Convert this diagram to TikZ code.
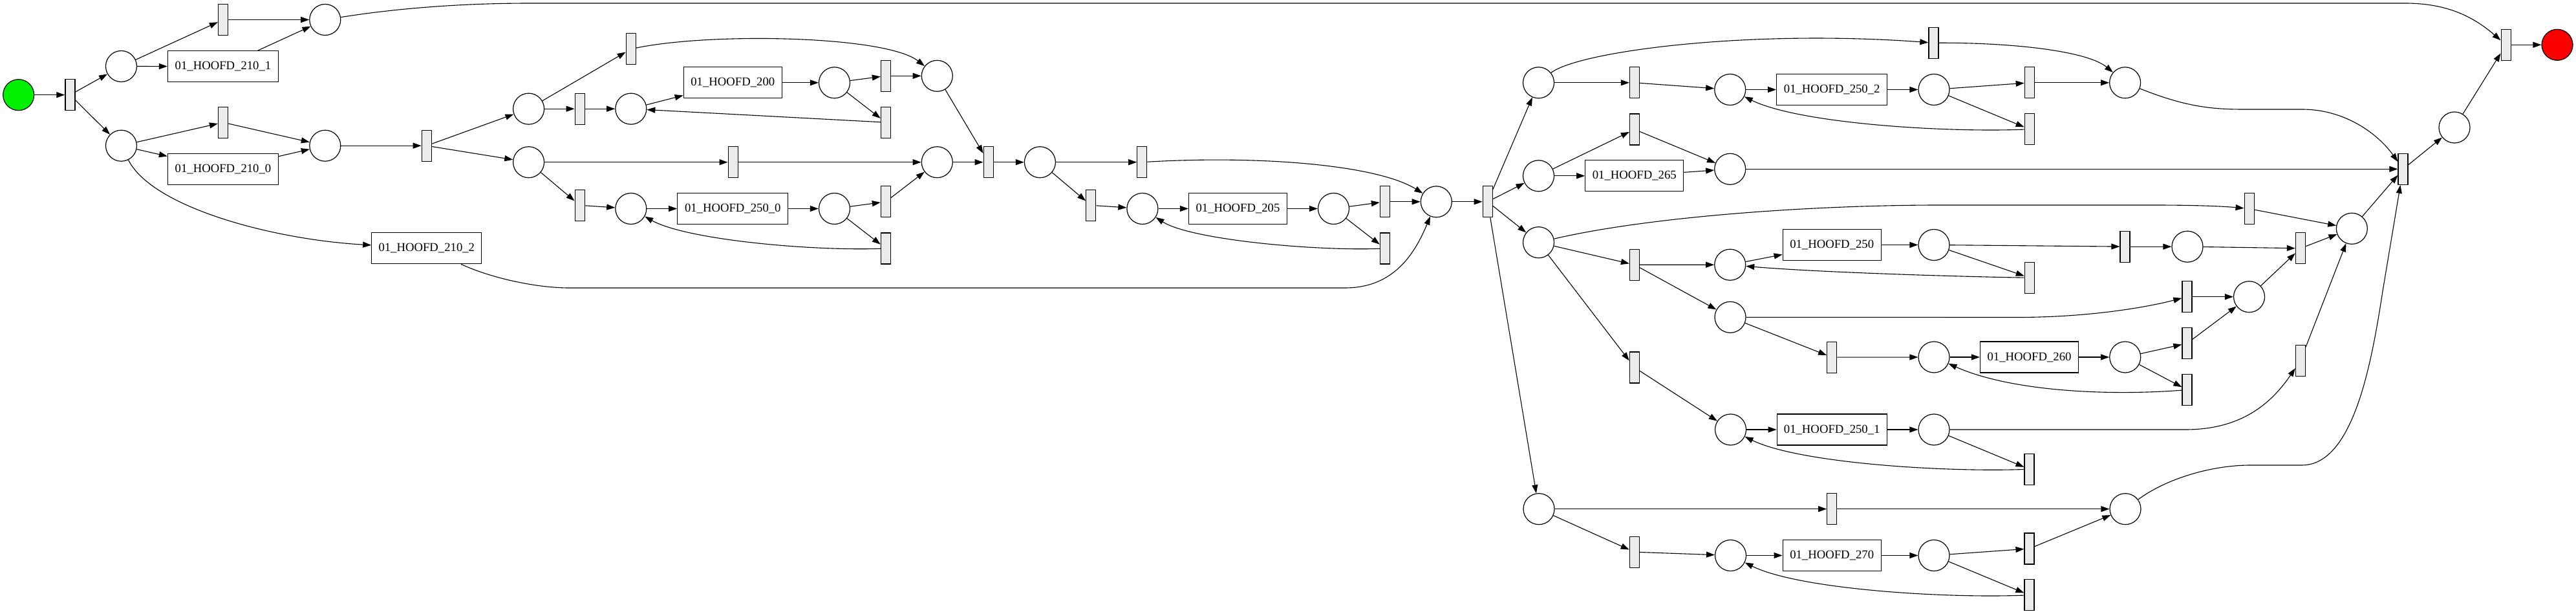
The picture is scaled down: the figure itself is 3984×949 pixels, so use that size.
\documentclass[tikz,border=0pt]{standalone}
\usepackage{fontspec}
\setmainfont{Liberation Serif}
\usetikzlibrary{arrows.meta}
\definecolor{tgray}{RGB}{235,235,235}
\definecolor{startg}{RGB}{0,240,0}
\definecolor{endr}{RGB}{250,0,0}
\begin{document}
\begin{tikzpicture}[x=1pt,y=-1pt,
  pnode/.style={circle,draw,line width=1.2pt,minimum size=48pt,inner sep=0pt},
  tnode/.style={rectangle,draw,line width=1.2pt,fill=tgray,minimum width=15pt,minimum height=48pt,inner sep=0pt},
  anode/.style={rectangle,draw,line width=1.2pt,minimum height=48pt,inner sep=0pt,font=\fontsize{18.7}{22}\selectfont},
  arr/.style={line width=1.1pt,-{Triangle[length=13pt,width=9pt]}}]
\useasboundingbox (0,0) rectangle (3984,949);
% places
\node[pnode,fill=startg] (p0) at (28.7,146.7) {};
\node[pnode] (p1) at (187.5,102.5) {};
\node[pnode] (p2) at (187.5,225.2) {};
\node[pnode] (p3) at (502.8,30.5) {};
\node[pnode] (p4) at (502.8,225.2) {};
\node[pnode] (p5) at (817.6,168.2) {};
\node[pnode] (p6) at (817.6,250.7) {};
\node[pnode] (p7) at (975.8,168.2) {};
\node[pnode] (p8) at (975.8,322.5) {};
\node[pnode] (p9) at (1290.5,127.8) {};
\node[pnode] (p10) at (1449.3,117.3) {};
\node[pnode] (p11) at (1449.3,250.7) {};
\node[pnode] (p12) at (1290.5,322.5) {};
\node[pnode] (p13) at (1608.4,250.7) {};
\node[pnode] (p14) at (1766.9,322.5) {};
\node[pnode] (p15) at (2062.5,322.5) {};
\node[pnode] (p16) at (2221.3,311.8) {};
\node[pnode] (p17) at (2379.5,127.8) {};
\node[pnode] (p18) at (2379.5,271.8) {};
\node[pnode] (p19) at (2379.5,374.7) {};
\node[pnode] (p20) at (2380,786.7) {};
\node[pnode] (p21) at (2675.7,138.5) {};
\node[pnode] (p22) at (2991,138.5) {};
\node[pnode] (p23) at (2675.7,261.3) {};
\node[pnode] (p24) at (2675.7,409.2) {};
\node[pnode] (p25) at (2991,378.5) {};
\node[pnode] (p26) at (2676,490.3) {};
\node[pnode] (p27) at (3383,381.2) {};
\node[pnode] (p28) at (3637.3,353.3) {};
\node[pnode] (p29) at (3478.5,458.7) {};
\node[pnode] (p30) at (2991,552) {};
\node[pnode] (p31) at (3286.7,552) {};
\node[pnode] (p32) at (2991,664) {};
\node[pnode] (p33) at (3287,786.7) {};
\node[pnode] (p34) at (2676.5,858.5) {};
\node[pnode] (p35) at (2991,858.5) {};
\node[pnode] (p36) at (2676.5,664) {};
\node[pnode] (p37) at (3286.6,127.8) {};
\node[pnode] (p38) at (3796,197) {};
\node[pnode,fill=endr] (pend) at (3955,69.3) {};
% transitions
\node[tnode] (T0) at (108.4,146.7) {};
\node[tnode] (Ta) at (345,30.5) {};
\node[tnode] (Tb) at (345,189.2) {};
\node[tnode] (Tc) at (659.8,225.2) {};
\node[tnode] (Td) at (975.8,75.8) {};
\node[tnode] (Te) at (896.7,168.2) {};
\node[tnode] (Tf) at (896.7,317.3) {};
\node[tnode] (Tg) at (1369.9,189.2) {};
\node[tnode] (Th) at (1369.9,117.3) {};
\node[tnode] (Ti) at (1133.6,250.7) {};
\node[tnode] (Tj) at (1369.9,311.8) {};
\node[tnode] (Tk) at (1369.9,384) {};
\node[tnode] (Tjoin) at (1528.7,250.7) {};
\node[tnode] (Tl) at (1766.3,250.7) {};
\node[tnode] (Tm) at (1687.2,317.3) {};
\node[tnode] (Tn) at (2141.9,311.8) {};
\node[tnode] (To) at (2141.9,384) {};
\node[tnode] (Tsplit) at (2300.7,311.8) {};
\node[tnode] (Tp) at (2528,127.8) {};
\node[tnode] (Tq) at (2990.4,66.3) {};
\node[tnode] (Ts) at (2528,200) {};
\node[tnode] (Tu) at (2528,409.3) {};
\node[tnode] (Tw) at (2527.8,568) {};
\node[tnode] (Tr) at (3138.7,199.8) {};
\node[tnode] (Tak) at (3138.7,127.8) {};
\node[tnode] (Tv) at (3138.8,429.3) {};
\node[tnode] (Ty) at (3286.5,381.2) {};
\node[tnode] (Tz) at (3557.9,383.8) {};
\node[tnode] (Tt) at (3478.6,322.6) {};
\node[tnode] (Taa) at (3382.4,458.7) {};
\node[tnode] (Tab) at (2833.2,552.2) {};
\node[tnode] (Tac) at (3382.4,530.7) {};
\node[tnode] (Tad) at (3382.5,602.5) {};
\node[tnode] (Tae) at (3557.9,557.3) {};
\node[tnode] (Taf) at (2833.2,786.7) {};
\node[tnode] (Tag) at (2527.8,853.2) {};
\node[tnode] (Tah) at (3138.5,848) {};
\node[tnode] (Tai) at (3138.5,919.8) {};
\node[tnode] (Taj) at (3138.5,725.2) {};
\node[tnode] (Tfj) at (3716.5,261.3) {};
\node[tnode] (Tfin) at (3875.6,69.3) {};
% labelled transitions
\node[anode,minimum width=171pt] (b2101) at (345,102.7) {01\_HOOFD\_210\_1};
\node[anode,minimum width=171pt] (b2100) at (345,261.3) {01\_HOOFD\_210\_0};
\node[anode,minimum width=170pt] (b2102) at (659.8,383.8) {01\_HOOFD\_210\_2};
\node[anode,minimum width=152pt] (b200) at (1133.3,127.8) {01\_HOOFD\_200};
\node[anode,minimum width=171pt] (b2500) at (1133.3,322.5) {01\_HOOFD\_250\_0};
\node[anode,minimum width=152pt] (b205) at (1914.5,322.5) {01\_HOOFD\_205};
\node[anode,minimum width=171pt] (b2502) at (2833.2,138.5) {01\_HOOFD\_250\_2};
\node[anode,minimum width=152pt] (b265) at (2527.8,271.8) {01\_HOOFD\_265};
\node[anode,minimum width=152pt] (b250) at (2833.2,378.5) {01\_HOOFD\_250};
\node[anode,minimum width=152pt] (b260) at (3138.5,552) {01\_HOOFD\_260};
\node[anode,minimum width=170pt] (b2501) at (2833.2,664) {01\_HOOFD\_250\_1};
\node[anode,minimum width=152pt] (b270) at (2833.2,858.5) {01\_HOOFD\_270};
% straight arcs
\foreach \a/\b in {p0/T0,T0/p1,T0/p2,p1/Ta,p1/b2101,Ta/p3,b2101/p3,
  p2/Tb,p2/b2100,Tb/p4,b2100/p4,p4/Tc,Tc/p5,Tc/p6,p5/Td,p5/Te,Te/p7,
  p6/Ti,p6/Tf,Tf/p8,p7/b200,b200/p9,p9/Th,p9/Tg,Th/p10,Tg/p7,
  p8/b2500,b2500/p12,p12/Tj,p12/Tk,Tj/p11,Ti/p11,p11/Tjoin,p10/Tjoin,
  Tjoin/p13,p13/Tl,p13/Tm,Tm/p14,p14/b205,b205/p15,p15/Tn,p15/To,Tn/p16,
  p16/Tsplit,Tsplit/p17,Tsplit/p18,Tsplit/p19,Tsplit/p20,
  p17/Tp,Tp/p21,p21/b2502,b2502/p22,p22/Tak,p22/Tr,Tak/p37,
  p18/Ts,p18/b265,Ts/p23,b265/p23,p23/Tfj,
  p19/Tu,p19/Tw,Tu/p24,Tu/p26,p24/b250,b250/p25,p25/Ty,p25/Tv,Ty/p27,p27/Tz,
  p26/Tab,Tab/p30,p30/b260,b260/p31,p31/Tac,p31/Tad,Tac/p29,Taa/p29,p29/Tz,
  Tt/p28,Tz/p28,Tae/p28,p28/Tfj,
  Tw/p36,p36/b2501,b2501/p32,p32/Taj,
  p20/Taf,Taf/p33,p20/Tag,Tag/p34,p34/b270,b270/p35,p35/Tah,p35/Tai,Tah/p33,
  Tfj/p38,p38/Tfin,Tfin/pend}
  \draw[arr] (\a) -- (\b);
% curved arcs
\draw[arr] (p3) .. controls (600,15) and (700,5) .. (820,5) -- (3720,5) .. controls (3790,5) and (3830,30) .. (Tfin);
\draw[arr] (p2) .. controls (235,320) and (420,370) .. (b2102);
\draw[arr] (b2102) .. controls (760,430) and (830,445) .. (880,445) -- (2080,445) .. controls (2150,445) and (2185,400) .. (p16);
\draw[arr] (Td) .. controls (1100,50) and (1370,55) .. (p10);
\draw[arr] (Tk) .. controls (1250,388) and (1060,370) .. (p8);
\draw[arr] (To) .. controls (2030,388) and (1840,370) .. (p14);
\draw[arr] (Tl) .. controls (1950,240) and (2130,255) .. (p16);
\draw[arr] (p17) .. controls (2440,80) and (2700,45) .. (Tq);
\draw[arr] (Tr) .. controls (3000,205) and (2780,190) .. (p21);
\draw[arr] (Tq) .. controls (3120,66) and (3230,80) .. (p37);
\draw[arr] (p37) .. controls (3380,165) and (3420,169) .. (3470,169) -- (3560,169) .. controls (3630,169) and (3680,210) .. (Tfj);
\draw[arr] (p19) .. controls (2550,335) and (2800,317) .. (3000,317) -- (3330,317) .. controls (3400,317) and (3440,319) .. (Tt);
\draw[arr] (Tv) .. controls (3000,427) and (2800,420) .. (p24);
\draw[arr] (p26) -- (3120,490.5) .. controls (3230,490.5) and (3320,475) .. (Taa);
\draw[arr] (Tad) .. controls (3260,612) and (3110,605) .. (p30);
\draw[arr] (p32) -- (3380,664) .. controls (3470,664) and (3515,620) .. (Tae);
\draw[arr] (Taj) .. controls (3000,730) and (2780,715) .. (p36);
\draw[arr] (Tai) .. controls (3000,925) and (2780,910) .. (p34);
\draw[arr] (p33) .. controls (3350,740) and (3420,719) .. (3480,719) -- (3560,719) .. controls (3640,719) and (3668,560) .. (3685,450) -- (Tfj);
\end{tikzpicture}
\end{document}
